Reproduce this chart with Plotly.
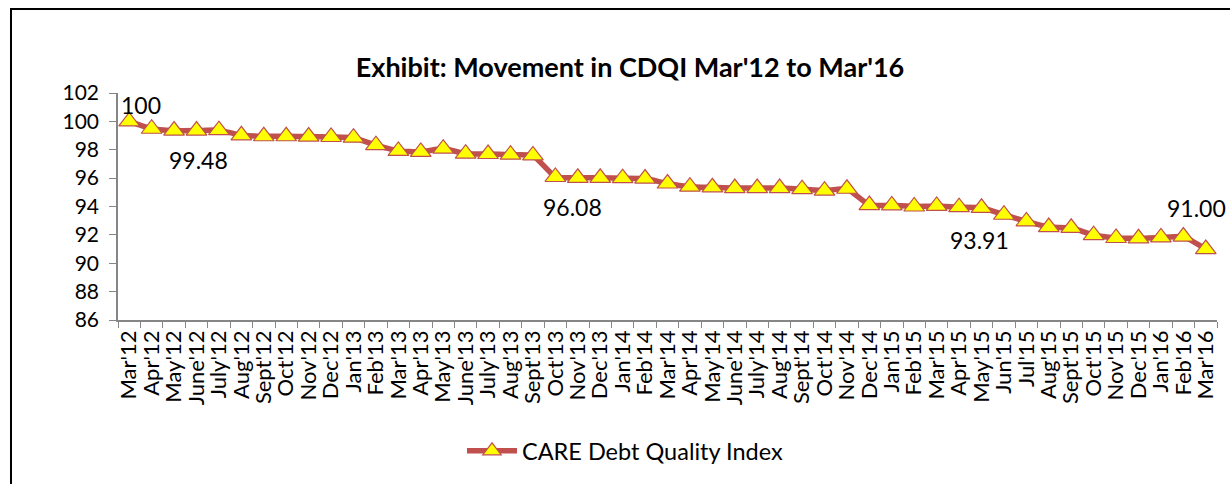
import plotly.graph_objects as go

categories = ["Mar'12", "Apr'12", "May'12", "June'12", "July'12", "Aug'12", "Sept'12", "Oct'12",
              "Nov'12", "Dec'12", "Jan'13", "Feb'13", "Mar'13", "Apr'13", "May'13", "June'13",
              "July'13", "Aug'13", "Sept'13", "Oct'13", "Nov'13", "Dec'13", "Jan'14", "Feb'14",
              "Mar'14", "Apr'14", "May'14", "June'14", "July'14", "Aug'14", "Sept'14", "Oct'14",
              "Nov'14", "Dec'14", "Jan'15", "Feb'15", "Mar'15", "Apr'15", "May'15", "Jun'15",
              "Jul'15", "Aug'15", "Sept'15", "Oct'15", "Nov'15", "Dec'15", "Jan'16", "Feb'16",
              "Mar'16"]

cdqi = [100.00, 99.48, 99.35, 99.35, 99.38, 99.02, 98.95, 98.95, 98.93, 98.90, 98.85, 98.32,
        97.92, 97.85, 98.08, 97.72, 97.70, 97.65, 97.60, 96.08, 96.02, 96.02, 96.00, 95.97,
        95.62, 95.40, 95.35, 95.30, 95.30, 95.30, 95.22, 95.12, 95.25, 94.10, 94.08, 94.00,
        94.04, 93.95, 93.91, 93.42, 92.95, 92.55, 92.50, 91.98, 91.78, 91.76, 91.82, 91.88,
        91.00]

# data labels: (category index, text format, x offset px, y offset px)
label_points = [(0, "{:.0f}", 12, 16), (1, "{:.2f}", 47, -31), (19, "{:.2f}", 17, -30),
                (38, "{:.2f}", -2, -32), (48, "{:.2f}", -9, 41)]

series_name = "CARE Debt Quality Index"
title_text = "Exhibit: Movement in CDQI Mar'12 to Mar'16"

FONT = "Lato, 'Open Sans', sans-serif"
RED = "#C0504D"

fig = go.Figure()
fig.add_trace(go.Scatter(
    x=categories, y=cdqi, mode="lines+markers", name=series_name,
    line=dict(color=RED, width=5.5, shape="spline", smoothing=0.4),
    marker=dict(symbol="triangle-up", size=18, color="#FFFF00",
                line=dict(color=RED, width=1.2)),
))

for idx, fmt, dx, dy in label_points:
    fig.add_annotation(x=categories[idx], y=cdqi[idx], text=fmt.format(cdqi[idx]),
                       showarrow=False, xshift=dx, yshift=dy,
                       font=dict(family=FONT, size=23, color="black"))

W, H = 1230, 484
L, R, T, B = 118, 13, 93, 164
pw, ph = W - L - R, H - T - B

def px2paper_x(px):
    return (px - L) / pw

def px2paper_y(py):
    return (H - B - py) / ph

# outer frame (left and top borders)
fig.add_shape(type="line", xref="paper", yref="paper",
              x0=px2paper_x(11), x1=px2paper_x(11), y0=px2paper_y(9), y1=px2paper_y(490),
              line=dict(color="black", width=2))
fig.add_shape(type="line", xref="paper", yref="paper",
              x0=px2paper_x(10), x1=px2paper_x(1235), y0=px2paper_y(9), y1=px2paper_y(9),
              line=dict(color="black", width=2))

fig.update_layout(
    width=W, height=H,
    margin=dict(l=L, r=R, t=T, b=B, autoexpand=False),
    paper_bgcolor="white", plot_bgcolor="white",
    font=dict(family=FONT, size=20, color="black"),
    title=dict(text="<b>" + title_text + "</b>", x=630 / W, xref="container", xanchor="center",
               y=1 - 68 / H, yref="container", yanchor="middle",
               font=dict(family=FONT, size=27, color="black")),
    showlegend=True,
    legend=dict(orientation="h", x=625 / W, xanchor="center", xref="container",
                y=1 - 451 / H, yanchor="middle", yref="container",
                font=dict(family=FONT, size=23.5, color="black"), itemwidth=50),
    xaxis=dict(type="category", showgrid=False, showline=True, linecolor="#868686", linewidth=1.5,
               ticks="outside", tickson="boundaries", ticklen=6, tickcolor="#868686",
               tickmode="array", tickvals=categories, ticktext=categories,
               tickangle=-90, tickfont=dict(family=FONT, size=22), zeroline=False,
               range=[-0.5, len(categories) - 0.5]),
    yaxis=dict(range=[86, 102], dtick=2, showgrid=False, showline=True, linecolor="#868686",
               linewidth=1.5, ticks="outside", ticklen=7, tickcolor="#868686",
               ticklabelstandoff=6,
               tickfont=dict(family=FONT, size=21), zeroline=False),
)

fig.write_html("out.html", config={"displayModeBar": False},
               post_script="document.body.style.margin='0';")
